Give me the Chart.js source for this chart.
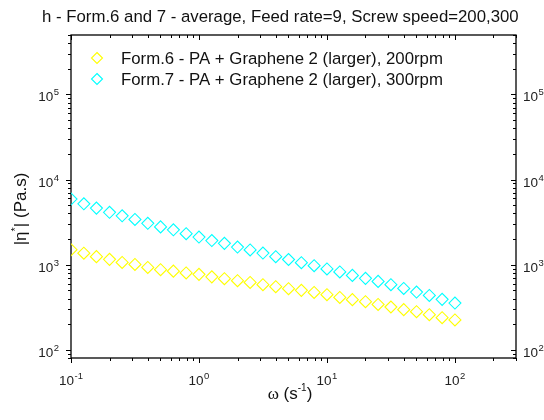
<!DOCTYPE html>
<html>
<head>
<meta charset="utf-8">
<script src="https://cdn.jsdelivr.net/npm/chart.js@4/dist/chart.umd.min.js"></script>
<style>
  html, body { margin: 0; padding: 0; background: #fff; }
  #wrap { width: 544px; height: 420px; }
</style>
</head>
<body>
<div id="wrap"><canvas id="c" width="544" height="420"></canvas></div>
<script>
// Angular frequency (rad/s)
const omega = [0.1, 0.126, 0.158, 0.2, 0.251, 0.316, 0.398, 0.501, 0.631, 0.794,
               1, 1.26, 1.58, 2, 2.51, 3.16, 3.98, 5.01, 6.31, 7.94,
               10, 12.6, 15.8, 20, 25.1, 31.6, 39.8, 50.1, 63.1, 79.4, 100];
// Complex viscosity |eta*| (Pa.s)
const etaForm6 = [1500, 1365, 1242, 1154, 1061, 1005, 927, 873, 839, 799,
                  769, 719, 684, 648, 618, 582, 551, 522, 499, 472,
                  444, 412, 388, 367, 341, 318, 296, 280, 258, 238, 224];
const etaForm7 = [5900, 5190, 4620, 4120, 3750, 3400, 3060, 2780, 2570, 2310,
                  2110, 1920, 1780, 1610, 1490, 1370, 1240, 1150, 1055, 973,
                  890, 821, 748, 690, 636, 582, 526, 477, 435, 391, 354];
const seriesLabels = ['Form.6 - PA + Graphene 2 (larger), 200rpm',
                      'Form.7 - PA + Graphene 2 (larger), 300rpm'];
const titleText = 'h - Form.6 and 7 - average, Feed rate=9, Screw speed=200,300';
const xDecades = [0.1, 1, 10, 100];
const yDecades = [100, 1000, 10000, 100000];
const xRange = [0.1, 300];
const yRange = [80, 500000];

const FONT = '"Liberation Sans", Arial, sans-serif';
const SERIF = '"Liberation Serif", "Times New Roman", serif';
const colors = ['#ffff00', '#00ffff'];

function toPoints(xs, ys) { return xs.map((x, i) => ({ x: x, y: ys[i] })); }

function expOf(v) { return Math.round(Math.log10(v)); }

function minorValues(lo, hi) {
  const out = [];
  const start = Math.floor(Math.log10(lo)), end = Math.ceil(Math.log10(hi));
  for (let e = start; e <= end; e++) {
    for (let m = 2; m <= 9; m++) {
      const v = m * Math.pow(10, e);
      if (v >= lo * 0.999 && v <= hi * 1.001) out.push(v);
    }
  }
  return out;
}

// Draws "10" with a raised exponent; align: 'center' | 'right' | 'left'
function drawPow(ctx, exp, x, baseY, align) {
  const baseFont = '13.5px ' + FONT, supFont = '9.5px ' + FONT;
  ctx.font = baseFont;
  const wb = ctx.measureText('10').width;
  ctx.font = supFont;
  const es = String(exp);
  const we = ctx.measureText(es).width;
  const total = wb + we + 0.5;
  let x0 = x;
  if (align === 'center') x0 = x - total / 2;
  else if (align === 'right') x0 = x - total;
  ctx.textAlign = 'left';
  ctx.textBaseline = 'alphabetic';
  ctx.font = baseFont;
  ctx.fillText('10', x0, baseY);
  ctx.font = supFont;
  ctx.fillText(es, x0 + wb + 0.5, baseY - 6);
}

const framePlugin = {
  id: 'frame',
  beforeDatasetsDraw(chart) {
    const ctx = chart.ctx;
    const a = chart.chartArea;
    const xs = chart.scales.x, ys = chart.scales.y;
    ctx.save();
    ctx.strokeStyle = '#000';
    ctx.fillStyle = '#000';
    ctx.lineWidth = 1.3;
    ctx.strokeRect(a.left, a.top, a.right - a.left, a.bottom - a.top);

    ctx.lineWidth = 1;
    const majorLen = 5, minorLen = 3;
    // x ticks: bottom (down, outward) and top (down, inward)
    const xTicks = xDecades.map(v => [v, majorLen]).concat(minorValues(xRange[0], xRange[1]).map(v => [v, minorLen]));
    xTicks.forEach(([v, len]) => {
      const px = Math.round(xs.getPixelForValue(v)) + 0.5;
      ctx.beginPath();
      ctx.moveTo(px, a.bottom); ctx.lineTo(px, a.bottom + len);
      ctx.moveTo(px, a.top); ctx.lineTo(px, a.top + len);
      ctx.stroke();
    });
    // y ticks: left (outward) and right (inward), both pointing left
    const yTicks = yDecades.map(v => [v, majorLen]).concat(minorValues(yRange[0], yRange[1]).map(v => [v, minorLen]));
    yTicks.forEach(([v, len]) => {
      const py = Math.round(ys.getPixelForValue(v)) + 0.5;
      ctx.beginPath();
      ctx.moveTo(a.left, py); ctx.lineTo(a.left - len, py);
      ctx.moveTo(a.right, py); ctx.lineTo(a.right - len, py);
      ctx.stroke();
    });

    // tick labels
    ctx.fillStyle = '#222';
    xDecades.forEach(v => {
      drawPow(ctx, expOf(v), xs.getPixelForValue(v), a.bottom + 27, 'center');
    });
    yDecades.forEach(v => {
      const py = ys.getPixelForValue(v);
      drawPow(ctx, expOf(v), a.left - 12, py + 7, 'right');
      drawPow(ctx, expOf(v), a.right + 7, py + 7, 'left');
    });

    // title
    ctx.fillStyle = '#111';
    ctx.font = '16.8px ' + FONT;
    ctx.textAlign = 'left';
    ctx.textBaseline = 'alphabetic';
    ctx.fillText(titleText, 42, 22);

    // x axis title: omega (s^-1)
    const cx = 290;
    const by = 399;
    ctx.font = '17px ' + SERIF;
    const wOm = ctx.measureText('\u03c9').width;
    ctx.font = '17px ' + FONT;
    const wA = ctx.measureText(' (s').width;
    ctx.font = '10px ' + FONT;
    const wS = ctx.measureText('-1').width;
    ctx.font = '17px ' + FONT;
    const wB = ctx.measureText(')').width;
    let x0 = cx - (wOm + wA + wS + wB) / 2;
    ctx.font = '17px ' + SERIF;
    ctx.fillText('\u03c9', x0, by); x0 += wOm;
    ctx.font = '17px ' + FONT;
    ctx.fillText(' (s', x0, by); x0 += wA;
    ctx.font = '10px ' + FONT;
    ctx.fillText('-1', x0, by - 8); x0 += wS;
    ctx.font = '17px ' + FONT;
    ctx.fillText(')', x0, by);

    // y axis title: |eta*| (Pa.s)
    ctx.save();
    ctx.translate(26, 209);
    ctx.rotate(-Math.PI / 2);
    ctx.font = '17px ' + FONT;
    const p1 = '|\u03b7', p3 = '| (Pa.s)';
    const w1 = ctx.measureText(p1).width, w3 = ctx.measureText(p3).width;
    ctx.font = '11px ' + FONT;
    const w2 = ctx.measureText('*').width;
    let t0 = -(w1 + w2 + w3) / 2;
    ctx.font = '17px ' + FONT;
    ctx.fillText(p1, t0, 0); t0 += w1;
    ctx.font = '11px ' + FONT;
    ctx.fillText('*', t0, -7); t0 += w2;
    ctx.font = '17px ' + FONT;
    ctx.fillText(p3, t0, 0);
    ctx.restore();

    // legend
    const legY = [58, 79];
    chart.data.datasets.forEach((ds, i) => {
      const mx = 97, my = legY[i];
      ctx.strokeStyle = ds.borderColor;
      ctx.lineWidth = 1.1;
      ctx.beginPath();
      ctx.moveTo(mx, my - 5.5); ctx.lineTo(mx + 5.5, my);
      ctx.lineTo(mx, my + 5.5); ctx.lineTo(mx - 5.5, my);
      ctx.closePath();
      ctx.stroke();
      ctx.fillStyle = '#111';
      ctx.font = '16.8px ' + FONT;
      ctx.textBaseline = 'middle';
      ctx.fillText(ds.label, 121, my + 1);
    });
    ctx.restore();
  }
};

new Chart(document.getElementById('c'), {
  type: 'scatter',
  data: {
    datasets: [
      { label: seriesLabels[0], data: toPoints(omega, etaForm6),
        borderColor: colors[0], backgroundColor: 'rgba(0,0,0,0)',
        pointStyle: 'rectRot', pointRadius: 6, pointBorderWidth: 1.1, showLine: false },
      { label: seriesLabels[1], data: toPoints(omega, etaForm7),
        borderColor: colors[1], backgroundColor: 'rgba(0,0,0,0)',
        pointStyle: 'rectRot', pointRadius: 6, pointBorderWidth: 1.1, showLine: false }
    ]
  },
  options: {
    responsive: false,
    animation: false,
    events: [],
    layout: { padding: { left: 71, right: 28, top: 35, bottom: 62 } },
    plugins: { legend: { display: false }, title: { display: false }, tooltip: { enabled: false } },
    scales: {
      x: { type: 'logarithmic', min: xRange[0], max: xRange[1], display: false },
      y: { type: 'logarithmic', min: yRange[0], max: yRange[1], display: false }
    }
  },
  plugins: [framePlugin]
});
</script>
</body>
</html>
